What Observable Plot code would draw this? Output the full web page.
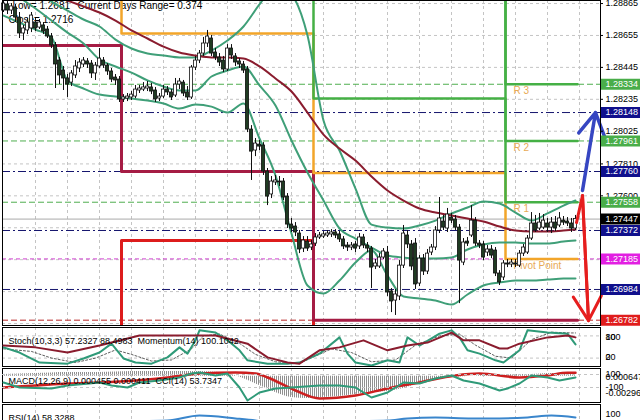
<!DOCTYPE html>
<html><head><meta charset="utf-8">
<script src="https://cdn.jsdelivr.net/npm/d3@7"></script>
<script src="https://cdn.jsdelivr.net/npm/@observablehq/plot@0.6"></script>
<style>
body{margin:0;background:#fff;}
#wrap{position:relative;width:640px;height:420px;overflow:hidden;background:#fff;}
#wrap svg{position:absolute;left:0;}
</style></head><body>
<svg width="0" height="0" style="position:absolute"><defs><pattern id="hatch" width="2" height="4" patternUnits="userSpaceOnUse"><rect x="0" y="0" width="1" height="4" fill="#8f8f8f"/></pattern></defs></svg>
<div id="wrap"></div>
<script>
// ---------- DATA (M30 bars) ----------
const opens = [
1.28819,1.28859,1.28819,1.28839,1.28773,1.28668,1.28688,1.28701,1.28740,1.28707,
1.28721,1.28694,1.28648,1.28589,1.28490,1.28424,1.28372,1.28345,1.28392,1.28438,
1.28464,1.28484,1.28470,1.28405,1.28451,1.28490,1.28457,1.28418,1.28378,1.28365,
1.28234,1.28240,1.28247,1.28253,1.28293,1.28299,1.28306,1.28313,1.28293,1.28240,
1.28253,1.28299,1.28280,1.28260,1.28332,1.28345,1.28280,1.28247,1.28444,1.28490,
1.28536,1.28602,1.28635,1.28543,1.28510,1.28490,1.28431,1.28569,1.28517,1.28484,
1.28464,1.28431,1.28036,1.27898,1.27937,1.27931,1.27760,1.27609,1.27688,1.27694,
1.27694,1.27595,1.27411,1.27398,1.27352,1.27253,1.27299,1.27260,1.27286,1.27326,
1.27332,1.27339,1.27346,1.27359,1.27346,1.27313,1.27273,1.27260,1.27280,1.27267,
1.27326,1.27273,1.27253,1.27135,1.27135,1.27194,1.27227,1.26971,1.26911,1.26938,
1.27141,1.27339,1.27280,1.27286,1.27023,1.27187,1.27102,1.27227,1.27260,1.27372,
1.27431,1.27385,1.27457,1.27444,1.27391,1.27161,1.27299,1.27339,1.27437,1.27286,
1.27280,1.27227,1.27247,1.27240,1.27089,1.27063,1.27155,1.27148,1.27155,1.27141,
1.27220,1.27227,1.27319,1.27418,1.27385,1.27391,1.27418,1.27391,1.27424,1.27405,
1.27437,1.27431,1.27418,1.27385];
const highs = [
1.28885,1.28878,1.28865,1.28859,1.28806,1.28721,1.28767,1.28806,1.28767,1.28760,
1.28740,1.28714,1.28668,1.28609,1.28510,1.28451,1.28398,1.28424,1.28490,1.28503,
1.28510,1.28503,1.28490,1.28477,1.28569,1.28510,1.28470,1.28438,1.28398,1.28385,
1.28266,1.28273,1.28286,1.28326,1.28326,1.28345,1.28352,1.28339,1.28313,1.28273,
1.28326,1.28319,1.28299,1.28372,1.28372,1.28359,1.28319,1.28457,1.28517,1.28556,
1.28642,1.28688,1.28655,1.28569,1.28536,1.28517,1.28595,1.28595,1.28536,1.28503,
1.28484,1.28451,1.28062,1.27977,1.27964,1.27950,1.27780,1.27727,1.27734,1.27727,
1.27714,1.27615,1.27451,1.27424,1.27372,1.27332,1.27332,1.27306,1.27352,1.27359,
1.27365,1.27372,1.27378,1.27378,1.27365,1.27332,1.27293,1.27293,1.27299,1.27352,
1.27346,1.27293,1.27267,1.27181,1.27220,1.27253,1.27267,1.26990,1.26984,1.27174,
1.27405,1.27372,1.27306,1.27319,1.27207,1.27214,1.27247,1.27280,1.27398,1.27589,
1.27471,1.27517,1.27484,1.27471,1.27411,1.27319,1.27326,1.27536,1.27457,1.27306,
1.27299,1.27273,1.27273,1.27260,1.27108,1.27174,1.27181,1.27181,1.27181,1.27240,
1.27280,1.27339,1.27490,1.27471,1.27484,1.27477,1.27451,1.27457,1.27464,1.27490,
1.27464,1.27457,1.27451,1.27471];
const lows = [
1.28806,1.28793,1.28793,1.28740,1.28635,1.28622,1.28661,1.28674,1.28681,1.28694,
1.28661,1.28635,1.28569,1.28306,1.28332,1.28293,1.28247,1.28319,1.28372,1.28411,
1.28444,1.28438,1.28372,1.28359,1.28438,1.28438,1.28392,1.28345,1.28326,1.28214,
1.28214,1.28220,1.28227,1.28240,1.28273,1.28286,1.28286,1.28266,1.28214,1.28220,
1.28240,1.28260,1.28227,1.28247,1.28299,1.28253,1.28227,1.28234,1.28424,1.28470,
1.28517,1.28576,1.28517,1.28490,1.28451,1.28411,1.28418,1.28497,1.28451,1.28438,
1.28405,1.28016,1.27701,1.27858,1.27898,1.27734,1.27536,1.27582,1.27668,1.27661,
1.27569,1.27385,1.27359,1.27332,1.27220,1.27227,1.27234,1.27240,1.27267,1.27313,
1.27319,1.27326,1.27326,1.27319,1.27293,1.27247,1.27234,1.27240,1.27227,1.27247,
1.27253,1.27227,1.26990,1.27115,1.27122,1.27181,1.26938,1.26832,1.26813,1.26911,
1.27122,1.27253,1.27108,1.26984,1.27003,1.27076,1.27082,1.27207,1.27240,1.27352,
1.27372,1.27359,1.27418,1.27372,1.26891,1.27141,1.27267,1.27326,1.27267,1.27253,
1.27174,1.27201,1.27187,1.27069,1.27010,1.27043,1.27128,1.27128,1.27128,1.27128,
1.27201,1.27214,1.27306,1.27359,1.27372,1.27378,1.27359,1.27352,1.27365,1.27391,
1.27405,1.27398,1.27359,1.27372];
const closes = [
1.28865,1.28819,1.28846,1.28773,1.28668,1.28701,1.28740,1.28786,1.28701,1.28740,
1.28681,1.28648,1.28589,1.28464,1.28392,1.28372,1.28332,1.28405,1.28451,1.28477,
1.28490,1.28464,1.28405,1.28457,1.28503,1.28457,1.28418,1.28365,1.28359,1.28234,
1.28247,1.28253,1.28266,1.28299,1.28306,1.28313,1.28319,1.28286,1.28234,1.28253,
1.28299,1.28280,1.28247,1.28332,1.28352,1.28273,1.28247,1.28444,1.28490,1.28536,
1.28602,1.28648,1.28536,1.28510,1.28477,1.28431,1.28569,1.28523,1.28477,1.28464,
1.28424,1.28036,1.27891,1.27944,1.27924,1.27760,1.27595,1.27694,1.27701,1.27688,
1.27589,1.27411,1.27385,1.27359,1.27247,1.27306,1.27253,1.27280,1.27326,1.27339,
1.27346,1.27352,1.27359,1.27339,1.27313,1.27267,1.27260,1.27273,1.27253,1.27326,
1.27273,1.27253,1.27128,1.27155,1.27194,1.27234,1.26964,1.26905,1.26951,1.27141,
1.27352,1.27280,1.27135,1.27017,1.27187,1.27102,1.27220,1.27260,1.27372,1.27451,
1.27391,1.27477,1.27437,1.27391,1.27174,1.27293,1.27286,1.27437,1.27286,1.27273,
1.27194,1.27247,1.27207,1.27089,1.27030,1.27155,1.27148,1.27161,1.27148,1.27220,
1.27260,1.27319,1.27418,1.27372,1.27424,1.27437,1.27391,1.27424,1.27385,1.27451,
1.27424,1.27418,1.27385,1.27447];

// indicator lines sampled at bar numbers
const bandBars = [0,4,8,12,16,20,24,28,32,36,40,44,48,52,56,60,64,68,72,76,80,84,88,92,96,100,104,108,112,116,120,124,128,132,136,140,143];
const upperBand = [1.29148,1.29030,1.28951,1.28878,1.28819,1.28760,1.28714,1.28628,1.28569,1.28536,1.28523,1.28510,1.28510,1.28556,1.28622,1.28714,1.28859,1.28984,1.28924,1.28655,1.28095,1.27898,1.27648,1.27411,1.27391,1.27385,1.27405,1.27437,1.27484,1.27523,1.27562,1.27549,1.27490,1.27437,1.27484,1.27536,1.27569];
const middleBand = [1.28984,1.28905,1.28832,1.28753,1.28674,1.28602,1.28497,1.28451,1.28411,1.28359,1.28319,1.28293,1.28293,1.28385,1.28424,1.28451,1.28326,1.28194,1.27964,1.27753,1.27569,1.27385,1.27319,1.27260,1.27207,1.27194,1.27187,1.27187,1.27194,1.27247,1.27280,1.27293,1.27293,1.27286,1.27286,1.27299,1.27306];
const lowerBand = [1.28786,1.28740,1.28694,1.28642,1.28359,1.28306,1.28266,1.28253,1.28240,1.28227,1.28207,1.28174,1.28201,1.28187,1.28148,1.28207,1.27977,1.27734,1.27352,1.27010,1.26957,1.27043,1.27161,1.27240,1.27076,1.26938,1.26925,1.26911,1.26885,1.26951,1.27010,1.27030,1.27043,1.27043,1.27049,1.27056,1.27056];
const movingAvg = [1.29082,1.29030,1.28977,1.28931,1.28885,1.28846,1.28806,1.28753,1.28688,1.28635,1.28582,1.28543,1.28523,1.28510,1.28510,1.28503,1.28451,1.28372,1.28286,1.28148,1.28003,1.27911,1.27832,1.27727,1.27635,1.27569,1.27517,1.27490,1.27471,1.27451,1.27431,1.27398,1.27372,1.27365,1.27365,1.27372,1.27378];

// daily pivot step lines (day start bar, last entry = end)
const dayStart = [-0.75, 29.5, 77.5, 125.5, 143.5];
const pivotLine = [1.2905, 1.28668, 1.2775, 1.27185];
const r1Line = [1.2935, 1.2935, 1.2824, 1.27558];
const r2Line = [1.2935, 1.2935, 1.2935, 1.27961];
const r3Line = [1.2935, 1.2935, 1.2935, 1.28334];
const s1Line = [1.28589, 1.2776, 1.26782, 1.26782];
const s2Line = [1.2650, 1.27306, 1.2650, 1.2650];
const pivotNames = ["R 3", "R 2", "R 1", "Pivot Point"];

// horizontal levels across the chart
const levelPrices = [1.28334, 1.28148, 1.27961, 1.2776, 1.27558, 1.27447, 1.27372, 1.27185, 1.26984, 1.26782];
const levelKinds  = ["R", "N", "R", "N", "R", "bid", "N", "P", "N", "S"];

// axis ticks (grid) and the tick labels left uncovered by the level boxes
const priceTicks = [1.28865, 1.28655, 1.28445, 1.28235, 1.28025, 1.2781, 1.276, 1.2739, 1.2718, 1.2697, 1.2676];
const tickLabels = [1.28865, 1.28655, 1.28445, 1.28235, 1.28025, 1.2781, 1.276];
const gridBars = [8,16,24,32,40,48,56,64,72,80,88,96,104,112,120,128,136,144];

// forecast arrows (bar, price)
const upArrow = [[144.75, 1.27635], [148, 1.28148]];
const downArrow = [[143.25, 1.27424], [144.75, 1.27602], [146.25, 1.26779]];

// info texts
const infoTexts = ["Low= 1.2681", "Current Days Range= 0.374", "Close= 1.2716"];

// sub-window indicators
const stochBars = [0,4,9,16,20,24,27,30,33,37,41,44,46,48,49,53,56,59,61,66,71,74,79,84,86,88,92,96,99,101,104,109,112,114,116,119,123,125,129,131,136,141,143];
const stochMain = [49,35,8,5,19,35,59,19,8,5,22,49,32,68,95,89,68,41,14,5,5,8,32,76,32,8,0,14,8,76,54,86,95,76,41,32,14,8,41,95,89,86,57];
const signalBars = [0,7,12,18,23,28,32,37,42,47,50,54,59,63,68,74,82,87,92,98,103,109,114,118,123,127,132,137,142,143];
const stochSignal = [45,38,20,8,20,42,30,12,15,45,80,85,60,30,10,6,45,35,10,15,55,80,85,55,25,20,70,90,88,88];
const momBars = [0,8,16,24,34,45,53,61,66,71,74,79,84,90,96,101,106,112,115,119,124,126,129,136,141,143];
const momentum = [100.04,99.99,99.85,100.04,100.31,100.31,100.31,100.09,99.72,99.58,99.55,99.91,99.99,100.18,99.91,100.04,100.12,100.39,100.18,100.18,99.96,99.96,100.09,100.26,100.31,100.26];
const macdBars = [0,8,16,24,32,40,48,56,60,64,68,72,76,80,84,88,92,96,100,104,108,112,116,120,124,128,132,136,140,143];
const macdMain = [0.00021,0.00033,0.00045,0.00045,0.00056,0.00056,0.00056,0.00033,-0.00026,-0.00109,-0.00191,-0.0025,-0.00262,-0.0025,-0.00239,-0.00215,-0.00191,-0.0018,-0.00144,-0.00085,-0.00038,-0.00014,-0.00002,0.0001,0.0001,0.00021,0.00021,0.00033,0.00033,0.000455];
const sigBars = [0,8,16,24,33,41,49,58,63,66,73,79,88,96,104,113,119,129,136,141,143];
const macdSignal = [-0.00132,-0.00109,-0.00085,-0.00073,-0.0005,-0.00014,0.00033,0.00045,0.00033,-0.00014,-0.00168,-0.00262,-0.00227,-0.00144,-0.00073,0.0001,0.00033,-0.00014,0.0001,0.00041,0.00041];
const cciBars = [0,4,12,16,24,27,31,34,39,44,47,49,53,56,59,61,64,68,72,79,84,88,92,96,100,104,108,112,115,119,124,126,129,132,136,139,143];
const cci = [-23,-100,-115,-69,-23,-69,-100,-23,8,54,115,131,85,115,-100,-300,-177,-115,-100,-69,-69,-100,-254,-177,-23,-38,38,85,8,-38,-146,-115,-38,85,54,8,54];
const rsiBars = [0,14,29,41,49,58,63,69,79,87,96,101,108,117,124,131,137,143];
const rsi = [35,30,38,42,68,53,42,20,30,38,42,53,58,53,53,58,68,58];

// ---------- DRAWING ----------
const FONT = '"Liberation Sans", Arial, sans-serif';
const XD = [-0.25, 149.25];
const wrap = document.getElementById("wrap");
function place(svg, top) { svg.style.top = top + "px"; wrap.appendChild(svg); }
function panel(height, yDomain, marks, mt = 1, mb = 1) {
  return Plot.plot({
    width: 640, height, marginLeft: 2, marginRight: 40, marginTop: mt, marginBottom: mb,
    x: {domain: XD, axis: null}, y: {domain: yDomain, axis: null},
    style: {background: "transparent", fontFamily: FONT, fontSize: "9px", overflow: "visible"},
    marks
  });
}
const pts = (xs, ys) => xs.map((x, k) => ({x, y: ys[k]}));
const steps = vals => dayStart.map((d, k) => ({x: d, y: vals[Math.min(k, vals.length - 1)]}));
const bars = opens.map((o, i) => ({i, o, h: highs[i], l: lows[i], c: closes[i]}));
const levels = levelPrices.map((p, k) => ({p, kind: levelKinds[k]}));
const boxColor = {R: "#49ad49", N: "#10108c", bid: "#000000", P: "#e21fe2", S: "#e01c1c"};
const lineStyle = {
  R: {stroke: "#4fae4f", strokeDasharray: "6,3"},
  N: {stroke: "#15156e", strokeDasharray: "8,3,2,3"},
  bid: {stroke: "#a9a9a9"},
  P: {stroke: "#d040d0", strokeDasharray: "4,3"},
  S: {stroke: "#b82626", strokeDasharray: "6,3"}
};
const pivotLabelData = pivotNames.map((t, k) => ({t, p: [r3Line, r2Line, r1Line, pivotLine][k][3]}));
const grid = Plot.ruleX(gridBars, {stroke: "#c4c4c4", strokeDasharray: "3,3"});
const pline = (vals, stroke, w) => Plot.line(steps(vals), {x: "x", y: "y", curve: "step-after", stroke, strokeWidth: w, clip: true});
const band = (vals, stroke, w) => Plot.line(pts(bandBars, vals), {x: "x", y: "y", curve: "monotone-x", stroke, strokeWidth: w, clip: true});

const mainMarks = [
  grid,
  Plot.ruleY(priceTicks, {stroke: "#c4c4c4", strokeDasharray: "3,3"}),
  ...Object.keys(lineStyle).map(k => Plot.ruleY(levels.filter(d => d.kind === k), {y: "p", ...lineStyle[k]})),
  Plot.text([infoTexts[0]], {frameAnchor: "top-left", dx: 10, dy: 1, fill: "black", textAnchor: "start", fontSize: 10}),
  Plot.text([infoTexts[1]], {frameAnchor: "top-left", dx: 75, dy: 1, fill: "black", textAnchor: "start", fontSize: 10}),
  Plot.text([infoTexts[2]], {frameAnchor: "top-left", dx: 6, dy: 15, fill: "black", textAnchor: "start", fontSize: 10}),
  Plot.text(pivotLabelData, {x: () => dayStart[3] + 2, y: "p", text: "t", dy: 7, fill: "#e8aa55", textAnchor: "start", fontSize: 10}),
  pline(s2Line, "#dd1c1c", 3),
  pline(s1Line, "#a51c44", 3),
  pline(pivotLine, "#f2a52a", 2.5),
  pline(r1Line, "#45b045", 2.5),
  pline(r2Line, "#45b045", 2.5),
  pline(r3Line, "#45b045", 2.5),
  band(upperBand, "#3f9f78", 2),
  band(middleBand, "#3f9f78", 2),
  band(lowerBand, "#3f9f78", 2),
  band(movingAvg, "#8a1c2e", 2),
  Plot.ruleX(bars, {x: "i", y1: "l", y2: "h", stroke: "#111", strokeWidth: 1, clip: true}),
  Plot.rect(bars, {filter: d => d.c >= d.o, x1: d => d.i - 0.4, x2: d => d.i + 0.4, y1: "o", y2: "c", fill: "white", stroke: "#111", strokeWidth: 0.8}),
  Plot.rect(bars, {filter: d => d.c < d.o, x1: d => d.i - 0.4, x2: d => d.i + 0.4, y1: "o", y2: "c", fill: "#1f3b22", stroke: "#111", strokeWidth: 0.8}),
  Plot.line(downArrow, {x: d => d[0], y: d => d[1], stroke: "#e61e1e", strokeWidth: 3}),
  Plot.arrow([downArrow.slice(1)], {x1: d => d[0][0], y1: d => d[0][1], x2: d => d[1][0], y2: d => d[1][1], stroke: "#e61e1e", strokeWidth: 3, headLength: 14}),
  Plot.arrow([upArrow], {x1: d => d[0][0], y1: d => d[0][1], x2: d => d[1][0], y2: d => d[1][1], stroke: "#3646c2", strokeWidth: 3.5, headLength: 14}),
  Plot.ruleY(priceTicks, {y: d => d, x1: XD[1], x2: XD[1] + 0.75, stroke: "black"}),
  Plot.text(tickLabels, {y: d => d, frameAnchor: "right", dx: 5, textAnchor: "start", text: d => d.toFixed(5), fill: "black"}),
  ...Object.keys(boxColor).map(k => Plot.ruleY(levels.filter(d => d.kind === k), {y: "p", x1: XD[1] + 0.1, x2: XD[1] + 10.5, stroke: boxColor[k], strokeWidth: 11})),
  Plot.text(levels, {y: "p", frameAnchor: "right", dx: 5, textAnchor: "start", text: d => d.p.toFixed(5), fill: "white"}),
  Plot.frame({stroke: "black"})
];
place(panel(326, [1.26747, 1.28885], mainMarks, 0, 1), 0);

// Stochastic + Momentum
place(panel(41, [-2.7, 102.7], [
  grid,
  Plot.ruleY([20, 80], {stroke: "#c4c4c4", strokeDasharray: "3,3"}),
  Plot.line(pts(signalBars, stochSignal), {x: "x", y: "y", stroke: "#333", strokeWidth: 0.8, strokeDasharray: "2,2"}),
  Plot.line(pts(stochBars, stochMain), {x: "x", y: "y", stroke: "#2f9a78", strokeWidth: 2}),
  Plot.text(["100", "80"], {frameAnchor: "top-right", dx: 5, dy: 6, textAnchor: "start", fill: "black"}),
  Plot.text(["20", "0"], {frameAnchor: "bottom-right", dx: 5, dy: -7, textAnchor: "start", fill: "black"}),
  Plot.frame({stroke: "black"})
]), 326);
place(panel(41, [99.473, 100.527], [
  Plot.line(pts(momBars, momentum), {x: "x", y: "y", stroke: "#8a1c2e", strokeWidth: 2}),
  Plot.text(["Stoch(10,3,3) 57.2327 88.4983  Momentum(14) 100.1042"], {frameAnchor: "top-left", dx: 6, dy: 10, textAnchor: "start", fill: "black"})
]), 326);

// MACD + CCI
place(panel(36, [-0.0031, 0.00092], [
  grid,
  Plot.areaY(pts(macdBars, macdMain), {x: "x", y: "y", fill: "url(#hatch)", curve: "monotone-x"}),
  Plot.line(pts(sigBars, macdSignal), {x: "x", y: "y", stroke: "#cc1f1f", strokeWidth: 2.5, curve: "monotone-x"}),
  Plot.text(["0.000647"], {frameAnchor: "top-right", dx: 5, dy: 5, textAnchor: "start", fill: "black"}),
  Plot.text(["-0.00296"], {frameAnchor: "bottom-right", dx: 5, dy: -7, textAnchor: "start", fill: "black"}),
  Plot.frame({stroke: "black"})
]), 367);
place(panel(36, [-331, 192.5], [
  Plot.ruleY([100, -100], {stroke: "#c4c4c4", strokeDasharray: "3,3"}),
  Plot.line(pts(cciBars, cci), {x: "x", y: "y", stroke: "#2f9a78", strokeWidth: 2}),
  Plot.text([100, -100], {y: d => d, frameAnchor: "right", dx: 5, textAnchor: "start", text: d => String(d), fill: "black"}),
  Plot.text(["MACD(12,26,9) 0.000455 0.000411  CCI(14) 53.7347"], {frameAnchor: "top-left", dx: 6, dy: 9, textAnchor: "start", fill: "black"})
]), 367);

// RSI
place(panel(26, [0, 126.3], [
  grid,
  Plot.line(pts(rsiBars, rsi), {x: "x", y: "y", stroke: "#3a86cc", strokeWidth: 2, curve: "monotone-x", clip: true}),
  Plot.text(["RSI(14) 58.3288"], {frameAnchor: "top-left", dx: 6, dy: 10, textAnchor: "start", fill: "black"}),
  Plot.text(["100"], {frameAnchor: "top-right", dx: 5, dy: 6, textAnchor: "start", fill: "black"}),
  Plot.frame({stroke: "black"})
]), 403);
</script>
</body></html>
